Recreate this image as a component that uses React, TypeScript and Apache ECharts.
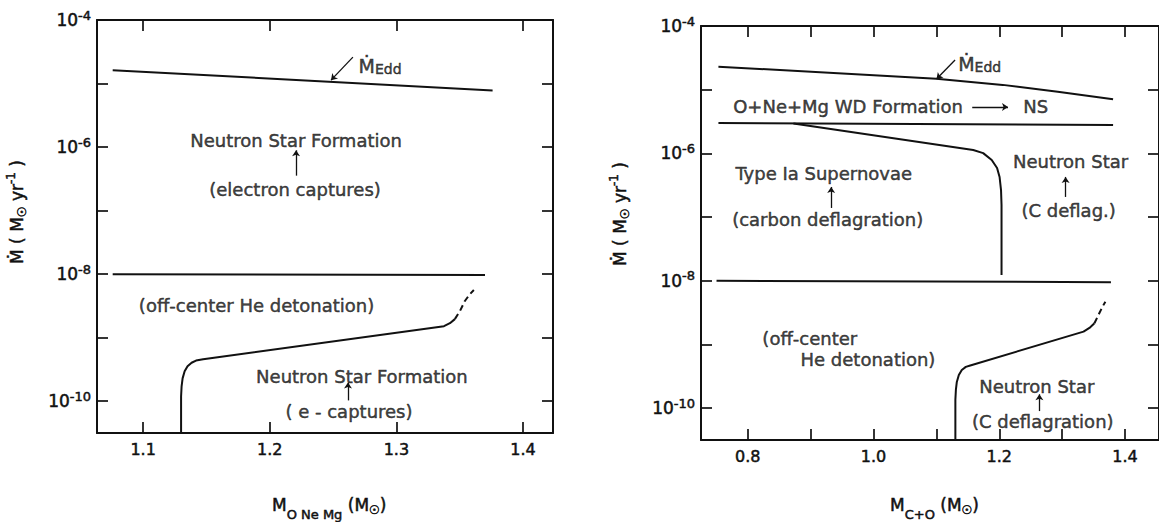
import { useEffect, useRef } from "react";
import * as echarts from "echarts";

const INK = "#111111";
const FONT = "'DejaVu Sans', 'Noto Sans', sans-serif";
// a thin outline in the ink colour gives the lettering its pen weight
const PEN = { textBorderColor: INK, textBorderWidth: 0.5 };

// Accretion-rate axis, drawn in decades of Mdot (log10), shared by both panels
const rateExpRange = [-10.5, -4];
const decadeTicks = [-10, -9, -8, -7, -6, -5, -4];
const decadeLabels = [-10, -8, -6, -4];

// Left panel: O+Ne+Mg white dwarf mass
const oneMassRange = [1.0636, 1.4237];
const oneMassTicks = [1.1, 1.2, 1.3, 1.4];

const oneEddMass = [1.076, 1.376];
const oneEddRate = [1.62e-5, 7.8e-6];

const oneHeMass = [1.076, 1.37];
const oneHeRate = [1.0e-8, 0.97e-8];

const oneNsMass = [1.13, 1.13, 1.1304, 1.1312, 1.1328, 1.1351, 1.1383, 1.1418, 1.1474, 1.3376, 1.3423, 1.3462];
const oneNsRate = [3.16e-11, 1.19e-10, 1.71e-10, 2.29e-10, 2.96e-10, 3.55e-10, 4.03e-10, 4.36e-10, 4.57e-10, 1.52e-9, 1.69e-9, 1.96e-9];

const oneNsDashMass = [1.3462, 1.3502, 1.3541, 1.3581, 1.3612];
const oneNsDashRate = [1.96e-9, 2.62e-9, 3.78e-9, 4.86e-9, 5.62e-9];

// Right panel: C+O white dwarf mass
const coMassRange = [0.7257, 1.454];
const coMassTicks = [0.8, 0.9, 1.0, 1.1, 1.2, 1.3, 1.4];
const coMassLabels = [0.8, 1.0, 1.2, 1.4];

const coEddMass = [0.7534, 1.1, 1.2055, 1.293, 1.381];
const coEddRate = [2.3e-5, 1.48e-5, 1.19e-5, 9.3e-6, 7.1e-6];

const coOneMass = [0.7534, 1.381];
const coOneRate = [3.0e-6, 2.8e-6];

const coIaMass = [0.8727, 1.1586, 1.1744, 1.188, 1.1965, 1.2005, 1.2028, 1.2036, 1.2036];
const coIaRate = [2.95e-6, 1.13e-6, 1.01e-6, 7.87e-7, 5.9e-7, 4.26e-7, 2.66e-7, 1.55e-7, 1.23e-8];

const coHeMass = [0.7504, 1.3776];
const coHeRate = [1.0e-8, 0.95e-8];

const coNsMass = [1.1302, 1.1302, 1.131, 1.1325, 1.1357, 1.1404, 1.1468, 1.1539, 1.334, 1.3434, 1.3513];
const coNsRate = [3.16e-11, 1.35e-10, 1.93e-10, 2.58e-10, 3.32e-10, 3.98e-10, 4.44e-10, 4.68e-10, 1.59e-9, 1.82e-9, 2.15e-9];

const coNsDashMass = [1.3513, 1.3577, 1.364, 1.3687];
const coNsDashRate = [2.15e-9, 2.9e-9, 3.88e-9, 4.7e-9];

// Region labels: [text, mass, rate]
const oneNotes: [string, number, number][] = [
  ["{m|Ṁ}{sub|Edd}", 1.2871, 1.87e-5],
  ["Neutron Star Formation", 1.2208, 1.27e-6],
  ["(electron captures)", 1.22, 2.14e-7],
  ["(off-center He detonation)", 1.1896, 3.16e-9],
  ["Neutron Star Formation", 1.2728, 2.47e-10],
  ["( e - captures)", 1.2626, 6.9e-11],
];
// Pointer arrows: [fromMass, fromRate, toMass, toRate]
const oneArrows: [number, number, number, number][] = [
  [1.2657, 2.6e-5, 1.2484, 1.13e-5],
  [1.2208, 3.55e-7, 1.2208, 8.9e-7],
  [1.2618, 1.03e-10, 1.2618, 1.98e-10],
];

const coNotes: [string, number, number][] = [
  ["{m|Ṁ}{sub|Edd}", 1.1689, 2.53e-5],
  ["O+Ne+Mg WD Formation", 0.9596, 5.35e-6],
  ["NS", 1.2581, 5.35e-6],
  ["Type Ia Supernovae", 0.9209, 4.75e-7],
  ["(carbon deflagration)", 0.9272, 9.0e-8],
  ["Neutron Star", 1.3134, 7.33e-7],
  ["(C deflag.)", 1.3103, 1.25e-7],
  ["(off-center", 0.8987, 1.22e-9],
  ["He detonation)", 0.9912, 5.71e-10],
  ["Neutron Star", 1.2597, 2.18e-10],
  ["(C deflagration)", 1.2692, 6.17e-11],
];
const coArrows: [number, number, number, number][] = [
  [1.1297, 2.92e-5, 1.1002, 1.47e-5],
  [1.157, 5.35e-6, 1.2139, 5.35e-6],
  [0.9327, 1.39e-7, 0.9327, 2.97e-7],
  [1.3055, 2.07e-7, 1.3055, 4.27e-7],
  [1.2638, 9.0e-11, 1.2638, 1.65e-10],
];

const NOTE_RICH = {
  m: { fontSize: 19, fontFamily: FONT, color: INK, ...PEN },
  sub: { fontSize: 14, fontFamily: FONT, color: INK, padding: [6, 0, 0, 0], ...PEN },
};

const TSTROKE = { stroke: INK, lineWidth: 0.5 };
const TITLE_RICH = {
  m: { fontSize: 17, fontFamily: FONT, fill: INK, ...TSTROKE },
  t: { fontSize: 17, fontFamily: FONT, fill: INK, ...TSTROKE },
  sub: { fontSize: 13, fontFamily: FONT, fill: INK, padding: [18, 0, 0, 0], ...TSTROKE },
  sun: { fontSize: 12, fontFamily: FONT, fill: INK, padding: [10, 0, 0, 0], ...TSTROKE },
  sup: { fontSize: 12, fontFamily: FONT, fill: INK, padding: [0, 0, 12, 0], ...TSTROKE },
};

const pts = (xs: number[], rs: number[]) => xs.map((x, i) => [x, Math.log10(rs[i])]);

function curve(panel: number, xs: number[], rs: number[], dashed = false) {
  return {
    type: "line",
    xAxisIndex: panel * 2,
    yAxisIndex: panel * 2,
    data: pts(xs, rs),
    symbol: "none",
    silent: true,
    clip: false,
    lineStyle: { color: INK, width: 2, type: dashed ? [6, 4] : "solid" },
    z: 3,
  };
}

function notes(panel: number, list: [string, number, number][], arrows: [number, number, number, number][]) {
  return {
    type: "scatter",
    xAxisIndex: panel * 2,
    yAxisIndex: panel * 2,
    symbolSize: 1,
    silent: true,
    itemStyle: { color: "transparent" },
    label: {
      show: true,
      position: "inside",
      color: INK,
      fontFamily: FONT,
      fontSize: 18,
      ...PEN,
      rich: NOTE_RICH,
    },
    data: list.map(([text, m, r]) => ({
      value: [m, Math.log10(r)],
      label: { formatter: text },
    })),
    markLine: {
      silent: true,
      symbol: ["none", "arrow"],
      symbolSize: 6,
      label: { show: false },
      lineStyle: { color: INK, width: 1.3, type: "solid" },
      data: arrows.map(([m1, r1, m2, r2]) => [
        { coord: [m1, Math.log10(r1)] },
        { coord: [m2, Math.log10(r2)] },
      ]),
    },
    z: 4,
  };
}

function massAxis(grid: number, range: number[], ticks: number[], labels: number[], top: boolean) {
  return {
    type: "value",
    gridIndex: grid,
    position: top ? "top" : "bottom",
    min: range[0],
    max: range[1],
    axisLine: { show: true, onZero: false, lineStyle: { color: INK, width: 2 } },
    axisTick: { show: true, inside: true, length: 11, customValues: ticks, lineStyle: { color: INK, width: 1.7 } },
    axisLabel: {
      show: !top,
      customValues: labels,
      margin: 8,
      color: INK,
      fontFamily: FONT,
      fontSize: 16,
      ...PEN,
      formatter: (v: number) => v.toFixed(1),
    },
    splitLine: { show: false },
  };
}

function rateAxis(grid: number, right: boolean) {
  return {
    type: "value",
    gridIndex: grid,
    position: right ? "right" : "left",
    min: rateExpRange[0],
    max: rateExpRange[1],
    axisLine: { show: true, onZero: false, lineStyle: { color: INK, width: 2 } },
    axisTick: { show: true, inside: true, length: 11, customValues: decadeTicks, lineStyle: { color: INK, width: 1.7 } },
    axisLabel: {
      show: !right,
      customValues: decadeLabels,
      margin: 6,
      color: INK,
      formatter: (v: number) => `{b|10}{s|${v}}`,
      rich: {
        b: { fontSize: 17, fontFamily: FONT, color: INK, ...PEN },
        s: { fontSize: 13, fontFamily: FONT, color: INK, padding: [0, 0, 10, 0], ...PEN },
      },
    },
    splitLine: { show: false },
  };
}

const yTitle = "{m|Ṁ}{t| ( M}{sun|☉}{t| yr}{sup|-1}{t| )}";

export default function App() {
  const ref = useRef<HTMLDivElement>(null);

  useEffect(() => {
    if (!ref.current) return;
    const chart = echarts.init(ref.current, undefined, { renderer: "svg" });
    chart.setOption({
      animation: false,
      backgroundColor: "#ffffff",
      grid: [
        { left: 97, top: 20, width: 456, height: 413 },
        { left: 701, top: 26, width: 461, height: 414 },
      ],
      xAxis: [
        massAxis(0, oneMassRange, oneMassTicks, oneMassTicks, false),
        massAxis(0, oneMassRange, oneMassTicks, oneMassTicks, true),
        massAxis(1, coMassRange, coMassTicks, coMassLabels, false),
        massAxis(1, coMassRange, coMassTicks, coMassLabels, true),
      ],
      yAxis: [rateAxis(0, false), rateAxis(0, true), rateAxis(1, false), rateAxis(1, true)],
      series: [
        curve(0, oneEddMass, oneEddRate),
        curve(0, oneHeMass, oneHeRate),
        curve(0, oneNsMass, oneNsRate),
        curve(0, oneNsDashMass, oneNsDashRate, true),
        notes(0, oneNotes, oneArrows),
        curve(1, coEddMass, coEddRate),
        curve(1, coOneMass, coOneRate),
        curve(1, coIaMass, coIaRate),
        curve(1, coHeMass, coHeRate),
        curve(1, coNsMass, coNsRate),
        curve(1, coNsDashMass, coNsDashRate, true),
        notes(1, coNotes, coArrows),
      ],
      graphic: [
        {
          type: "text",
          x: 17,
          y: 212,
          rotation: Math.PI / 2,
          style: { text: yTitle, rich: TITLE_RICH, align: "center", verticalAlign: "middle", fill: INK },
        },
        {
          type: "text",
          x: 620,
          y: 214,
          rotation: Math.PI / 2,
          style: { text: yTitle, rich: TITLE_RICH, align: "center", verticalAlign: "middle", fill: INK },
        },
        {
          type: "text",
          x: 272,
          y: 505,
          style: {
            text: "{m|M}{sub|O Ne Mg}{t| (M}{sun|☉}{t|)}",
            rich: TITLE_RICH,
            align: "left",
            verticalAlign: "middle",
            fill: INK,
          },
        },
        {
          type: "text",
          x: 890,
          y: 505,
          style: {
            text: "{m|M}{sub|C+O}{t| (M}{sun|☉}{t|)}",
            rich: TITLE_RICH,
            align: "left",
            verticalAlign: "middle",
            fill: INK,
          },
        },
      ],
    });
    return () => chart.dispose();
  }, []);

  return (
    <div
      ref={ref}
      style={{ position: "absolute", left: 0, top: 0, width: 1159, height: 522, background: "#fff" }}
    />
  );
}
